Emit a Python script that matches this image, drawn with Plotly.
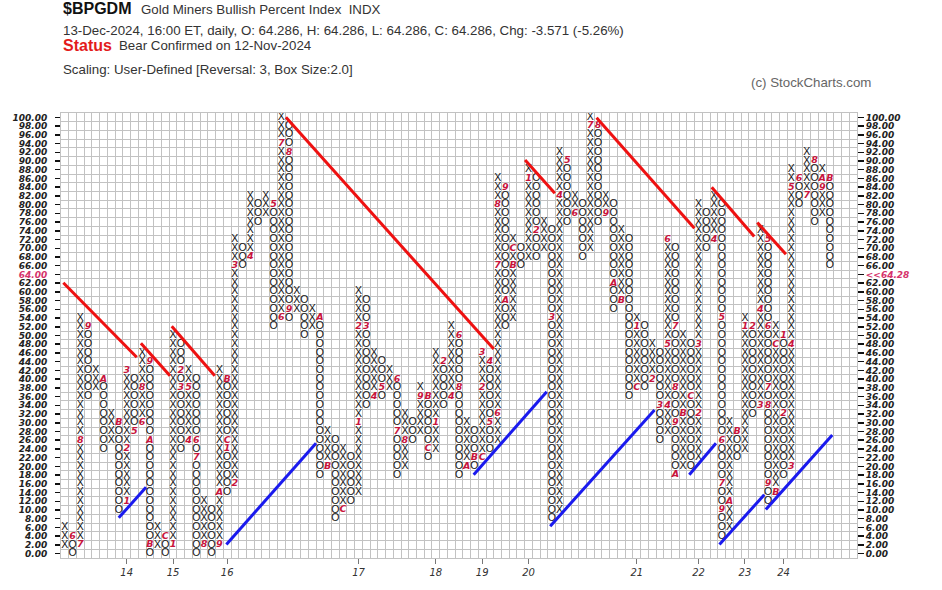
import plotly.graph_objects as go

# ---------------- data ----------------
# Point & Figure columns: alternate X (rising) / O (falling), first column is X.
col_low = [2, 0, 2, 36, 38, 24, 26, 10, 12, 28,
           30, 0, 2, 0, 2, 24, 26, 0, 2, 0,
           2, 14, 16, 66, 68, 76, 78, 52, 54, 54,
           56, 50, 52, 18, 20, 8, 10, 12, 14, 34,
           36, 36, 38, 18, 20, 26, 28, 22, 24, 34,
           36, 18, 20, 20, 22, 24, 26, 52, 54, 66,
           68, 68, 70, 8, 10, 76, 78, 68, 70, 76,
           78, 56, 58, 36, 38, 38, 40, 26, 28, 18,
           20, 20, 22, 70, 72, 4, 6, 22, 24, 32,
           34, 12, 14, 18, 20, 80, 82, 76, 78, 66]
col_high = [6, 4, 54, 52, 42, 40, 32, 30, 42, 40,
            46, 44, 6, 4, 50, 48, 42, 40, 12, 10,
            42, 40, 72, 70, 82, 80, 82, 80, 100, 98,
            60, 58, 56, 54, 28, 26, 24, 22, 60, 58,
            46, 44, 42, 40, 32, 30, 38, 36, 46, 44,
            52, 50, 30, 28, 46, 44, 86, 84, 72, 70,
            88, 86, 76, 74, 92, 90, 82, 80, 100, 98,
            82, 80, 74, 72, 54, 52, 48, 46, 72, 70,
            50, 48, 80, 78, 82, 80, 30, 28, 54, 52,
            74, 72, 52, 50, 88, 86, 92, 90, 88, 86]

# month markers (column, box value, month character)
month_col = [1, 2, 2, 3, 5, 7, 8, 8, 8, 9, 10, 10, 11, 11, 11, 13, 14, 15, 15, 16,
             16, 17, 17, 18, 20, 20, 21, 21, 21, 22, 22, 24, 27, 28, 28, 29, 29, 33, 34, 36,
             38, 38, 39, 40, 41, 43, 43, 44, 46, 47, 47, 48, 49, 50, 51, 51, 52, 53, 54, 54,
             54, 55, 55, 56, 56, 56, 57, 57, 58, 58, 60, 61, 63, 64, 65, 66, 68, 69, 70, 71,
             72, 74, 74, 76, 77, 78, 78, 78, 79, 79, 79, 79, 80, 81, 82, 82, 84, 85, 85, 85,
             85, 86, 87, 88, 89, 90, 90, 91, 91, 91, 91, 91, 92, 92, 93, 93, 94, 94, 94, 95,
             96, 97, 98, 98, 99]
month_val = [4, 2, 26, 52, 40, 30, 12, 24, 42, 28, 30, 38, 44, 26, 2, 4, 2, 42, 38, 26,
             38, 26, 22, 2, 2, 14, 40, 26, 24, 16, 66, 68, 80, 54, 94, 92, 56, 54, 20, 10,
             30, 52, 52, 36, 38, 40, 28, 26, 36, 36, 24, 30, 44, 36, 50, 38, 20, 22, 22, 38,
             46, 44, 30, 32, 66, 80, 84, 58, 66, 70, 86, 74, 54, 82, 90, 78, 98, 98, 78, 62,
             58, 38, 52, 40, 34, 34, 48, 72, 52, 38, 30, 18, 32, 36, 32, 48, 72, 54, 26, 16,
             10, 12, 28, 52, 52, 34, 56, 72, 52, 38, 34, 16, 14, 48, 50, 32, 20, 48, 84, 86,
             82, 90, 84, 86, 86]
month_chr = ["6", "7", "8", "9", "A", "B", "1", "2", "3", "5", "6", "8", "9", "A", "B", "C", "1", "2", "3", "4",
             "5", "6", "7", "8", "9", "A", "B", "C", "1", "2", "3", "4", "5", "6", "7", "8", "9", "A", "B", "C",
             "1", "2", "3", "4", "5", "6", "7", "8", "9", "B", "C", "1", "2", "4", "6", "8", "A", "B", "C", "2",
             "3", "4", "5", "6", "7", "8", "9", "A", "B", "C", "1", "2", "3", "4", "5", "6", "7", "8", "9", "A",
             "B", "C", "1", "2", "3", "4", "5", "6", "7", "8", "9", "A", "B", "C", "2", "3", "4", "5", "6", "7",
             "9", "A", "B", "1", "2", "3", "4", "5", "6", "7", "8", "9", "B", "C", "1", "2", "3", "4", "5", "6",
             "7", "8", "9", "A", "B"]

# trend lines (start column, start value, end column, end value)
red_lines = [(-0.2, 62.1, 9.3, 45.0), (9.84, 48.2, 13.6, 40.8), (13.83, 52.1, 19.4, 40.8),
             (28.6, 100.0, 55.5, 46.9), (59.55, 90.2, 63.4, 82.6), (68.8, 99.9, 81.46, 74.6),
             (83.7, 84.0, 89.2, 72.7), (89.6, 75.9, 93.3, 68.6)]
blue_lines = [(6.97, 8.2, 10.5, 15.2), (20.9, 2.1, 32.5, 25.3), (52.9, 18.1, 62.35, 37.1),
              (62.8, 6.3, 76.3, 32.9), (80.8, 18.1, 84.25, 25.3), (84.7, 2.1, 90.5, 13.5),
              (90.7, 10.1, 99.3, 27.2)]

years = ["14", "15", "16", "17", "18", "19", "20", "21", "22", "23", "24"]
year_cols = [8, 14, 21, 38, 48, 54, 60, 74, 82, 88, 93]

box_values = list(range(0, 101, 2))
last_value_label = "<<64.28"
n_cols_grid = 103

# ---------------- build figure ----------------
marks = {(c, v): ch for c, v, ch in zip(month_col, month_val, month_chr)}
xs_x, ys_x, xs_o, ys_o = [], [], [], []
for c, (lo, hi) in enumerate(zip(col_low, col_high)):
    is_x = (c % 2 == 0)
    for v in range(lo, hi + 1, 2):
        if (c, v) in marks:
            continue
        if is_x:
            xs_x.append(c); ys_x.append(v)
        else:
            xs_o.append(c); ys_o.append(v)

fig = go.Figure()
sym_font = dict(family="Liberation Sans", size=10.5, color="#111111")
fig.add_trace(go.Scatter(x=xs_x, y=ys_x, mode="text", text=["X"] * len(xs_x),
                         textposition="middle center", textfont=sym_font,
                         hoverinfo="skip", showlegend=False))
fig.add_trace(go.Scatter(x=xs_o, y=ys_o, mode="text", text=["O"] * len(xs_o),
                         textposition="middle center", textfont=sym_font,
                         hoverinfo="skip", showlegend=False))
fig.add_trace(go.Scatter(x=month_col, y=month_val, mode="text", text=month_chr,
                         textposition="middle center",
                         textfont=dict(family="DejaVu Sans", size=9.5, color="#c8143c",
                                       style="italic", weight="bold"),
                         hoverinfo="skip", showlegend=False))

for (x0, y0, x1, y1) in red_lines:
    fig.add_trace(go.Scatter(x=[x0, x1], y=[y0, y1], mode="lines",
                             line=dict(color="#ee1111", width=3),
                             hoverinfo="skip", showlegend=False))
for (x0, y0, x1, y1) in blue_lines:
    fig.add_trace(go.Scatter(x=[x0, x1], y=[y0, y1], mode="lines",
                             line=dict(color="#1a1aee", width=3),
                             hoverinfo="skip", showlegend=False))

# invisible helper traces so the overlay axes are drawn
fig.add_trace(go.Scatter(x=[0], y=[0], xaxis="x2", yaxis="y2", mode="markers",
                         marker=dict(opacity=0), hoverinfo="skip", showlegend=False))
fig.add_trace(go.Scatter(x=[0], y=[0], xaxis="x", yaxis="y3", mode="markers",
                         marker=dict(opacity=0), hoverinfo="skip", showlegend=False))

grid_col = "#c2c2c2"
xr = [-0.5, n_cols_grid - 0.5]
yr = [-1, 101]
lab_font = dict(family="DejaVu Sans", size=9, color="#222222", style="italic", weight="bold")

left_text = [('<span style="color:#d6336c">%.2f</span>' % v) if v == 64 else "%.2f" % v
             for v in box_values]
right_text = [('<span style="color:#d6336c">%s</span>' % last_value_label) if v == 64 else "%.2f" % v
              for v in box_values]

fig.update_layout(
    width=942, height=590,
    margin=dict(l=57, r=85, t=113, b=30),
    paper_bgcolor="white", plot_bgcolor="white",
    xaxis=dict(range=xr, tick0=-0.5, dtick=1, showgrid=True, gridcolor=grid_col,
               gridwidth=1, showticklabels=False, zeroline=False, ticks="",
               showline=True, linecolor=grid_col, mirror=True),
    yaxis=dict(range=yr, tick0=-1, dtick=2, showgrid=True, gridcolor=grid_col,
               gridwidth=1, showticklabels=False, zeroline=False, ticks="",
               showline=True, linecolor=grid_col, mirror=True),
    xaxis2=dict(range=xr, overlaying="x", side="bottom", tickmode="array",
                tickvals=year_cols, ticktext=years, showgrid=False, zeroline=False,
                ticks="outside", ticklen=5, tickcolor="#777777", tickwidth=1,
                tickfont=dict(family="DejaVu Sans", size=10, color="#333333", style="italic"),
                showline=False),
    yaxis2=dict(range=yr, overlaying="y", side="left", anchor="x2", tickmode="array",
                tickvals=box_values, ticktext=left_text, showgrid=False, zeroline=False,
                ticks="outside", ticklen=5, tickcolor="#111111", tickwidth=1.5,
                tickfont=lab_font, ticklabelstandoff=6, showline=False),
    yaxis3=dict(range=yr, overlaying="y", side="right", anchor="x", tickmode="array",
                tickvals=box_values, ticktext=right_text, showgrid=False, zeroline=False,
                ticks="outside", ticklen=6, tickcolor="#111111", tickwidth=1.5,
                tickfont=lab_font, showline=False),
)

def px_x(px):
    return (px - 57) / 800.0

def px_y(py):
    return (560 - py) / 447.0

txt = "#333333"
fs = 13.3
ann = [
    dict(text="<b>$BPGDM</b>", x=px_x(57), y=px_y(8), font=dict(family="Liberation Sans", size=16, color="#111111")),
    dict(text="Gold Miners Bullish Percent Index  INDX", x=px_x(135), y=px_y(9),
         font=dict(family="Liberation Sans", size=fs, color=txt)),
    dict(text="13-Dec-2024, 16:00 ET, daily, O: 64.286, H: 64.286, L: 64.286, C: 64.286, Chg: -3.571 (-5.26%)",
         x=px_x(57), y=px_y(30), font=dict(family="Liberation Sans", size=fs, color=txt)),
    dict(text="<b>Status</b>", x=px_x(57), y=px_y(45), font=dict(family="Liberation Sans", size=16, color="#e31b1b")),
    dict(text="Bear Confirmed on 12-Nov-2024", x=px_x(113), y=px_y(45),
         font=dict(family="Liberation Sans", size=fs, color=txt)),
    dict(text="Scaling: User-Defined [Reversal: 3, Box Size:2.0]", x=px_x(57), y=px_y(69),
         font=dict(family="Liberation Sans", size=fs, color=txt)),
    dict(text="(c) StockCharts.com", x=px_x(748), y=px_y(82),
         font=dict(family="Liberation Sans", size=fs, color="#666666")),
]
for a in ann:
    a.update(xref="paper", yref="paper", xanchor="left", yanchor="middle",
             showarrow=False)
fig.update_layout(annotations=ann)

# remove the browser's default page margin so the figure fills the window exactly
fig.write_html("out.html",
               config={"displayModeBar": False, "staticPlot": True},
               post_script="document.body.style.margin='0';document.body.style.overflow='hidden';")
